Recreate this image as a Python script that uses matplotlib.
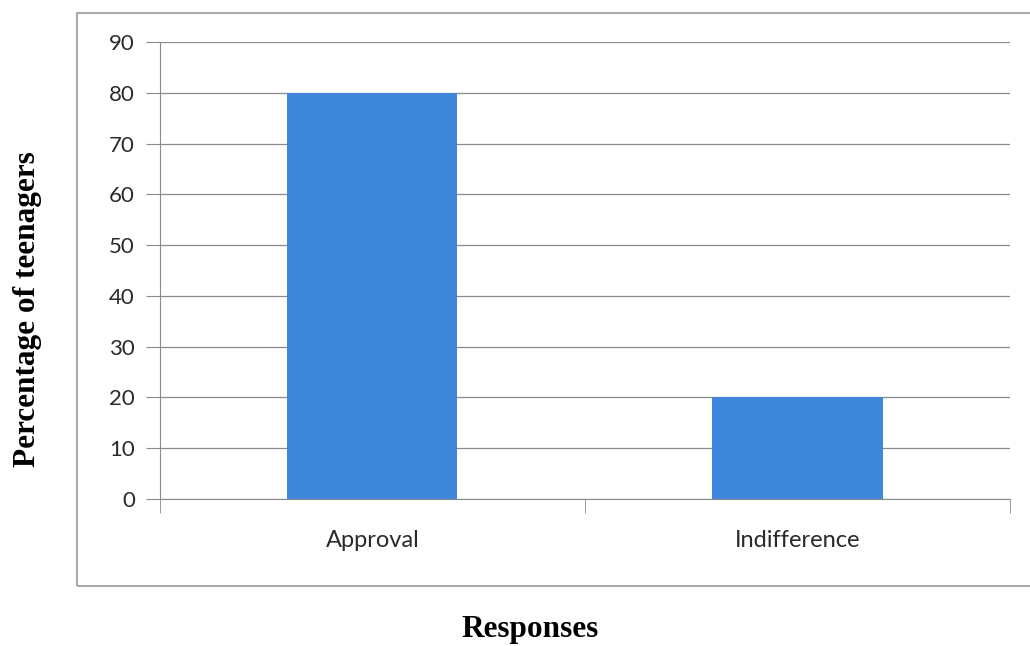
import matplotlib.pyplot as plt
import matplotlib.patches as patches

# survey responses
responses = ["Approval", "Indifference"]
percent = [80, 20]
yticks = [0, 10, 20, 30, 40, 50, 60, 70, 80, 90]

fig = plt.figure(figsize=(10.3, 6.46), dpi=100)
fig.patch.set_facecolor("white")

# chart border (runs off the right edge)
frame = patches.Rectangle((0.0748, 0.0929), 0.96, 0.887, transform=fig.transFigure,
                          fill=False, edgecolor="#9a9a9a", linewidth=1.2)
fig.add_artist(frame)

ax = fig.add_axes([0.1553, 0.2276, 0.8253, 0.7074])
x = list(range(len(responses)))
ax.bar(x, percent, width=0.4, color="#3f87da", zorder=3)

ax.set_xlim(-0.5, len(responses) - 0.5)
ax.set_ylim(0, 90)
ax.set_yticks(yticks)
ax.grid(axis="y", color="#8a8a8a", linewidth=0.9, zorder=0)

for side in ["top", "right"]:
    ax.spines[side].set_visible(False)
ax.spines["left"].set_color("#8a8a8a")
ax.spines["bottom"].set_color("#8a8a8a")

ax.set_xticks(x)
ax.set_xticklabels(responses, family="Lato", fontsize=17, color="#2a2a2a")
ax.tick_params(axis="x", length=0, pad=22)
# category boundary ticks
ax.set_xticks([-0.5, 0.5, 1.5], minor=True)
ax.tick_params(axis="x", which="minor", length=10, color="#8a8a8a")
ax.tick_params(axis="y", length=10, color="#8a8a8a", pad=8,
               labelsize=16, labelcolor="#2a2a2a")
for lbl in ax.get_yticklabels():
    lbl.set_family("Lato")

fig.text(0.027, 0.522, "Percentage of teenagers", rotation=90, ha="center", va="center",
         family="Liberation Serif", fontweight="bold", fontsize=22.5)
fig.text(0.515, 0.025, "Responses", ha="center", va="center",
         family="Liberation Serif", fontweight="bold", fontsize=22.5)

plt.savefig("out.png", dpi=100)
